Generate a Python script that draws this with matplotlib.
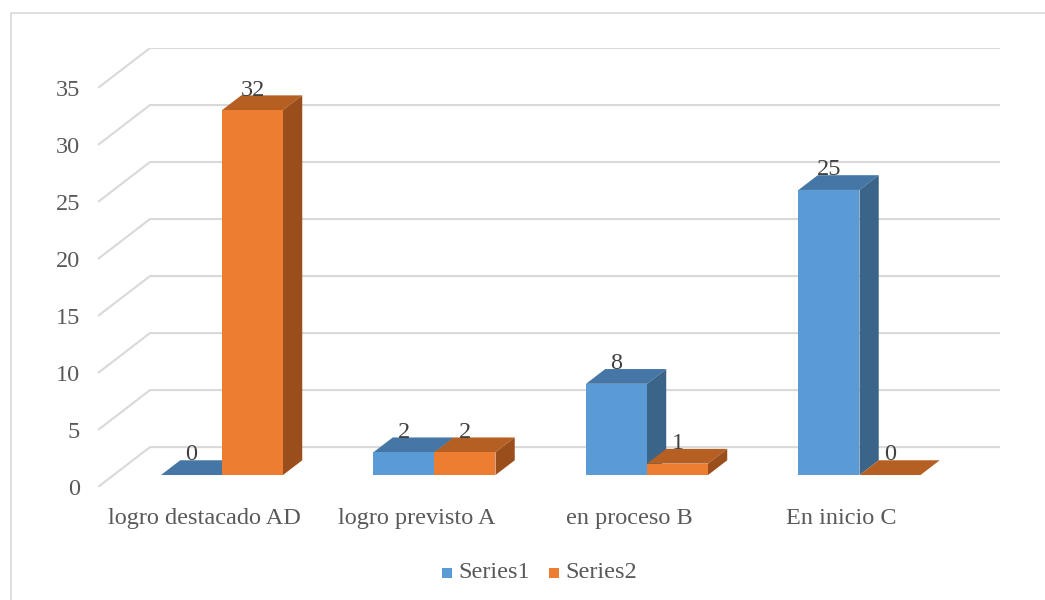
import matplotlib.pyplot as plt
from matplotlib.patches import Polygon, Rectangle

# data
categories = ['logro destacado AD', 'logro previsto A', 'en proceso B', 'En inicio C']
series1 = [0, 2, 8, 25]
series2 = [32, 2, 1, 0]
series_names = ['Series1', 'Series2']
yticks = [0, 5, 10, 15, 20, 25, 30, 35]

# colours: front, top, side
blue = ('#5B9BD5', '#4576A5', '#3A6589')
orange = ('#ED7D31', '#B65F22', '#9A4E1C')

plt.rcParams['font.family'] = ['Liberation Serif', 'DejaVu Serif']
txt_color = '#595959'
fs = 17.5

fig = plt.figure(figsize=(10.45, 6), dpi=100)
fig.patches.append(Rectangle((11 / 1045, -0.1), 1.2, 0.1 + 587 / 600,
                             transform=fig.transFigure, fill=False,
                             edgecolor='#D9D9D9', lw=1.2))

# fake 3D: depth moves a point right and up (data units)
DX = 52 / 212.5
DY = 40 / 11.43
Z1, Z2 = 0.3, 0.67
ymax = 35

ax = fig.add_axes([98 / 1045, 113 / 600, 902 / 1045, 439 / 600])
ax.set_xlim(0, len(categories) + DX)
ax.set_ylim(0, ymax + DY)
ax.axis('off')


def P(x, v, z):
    return (x + z * DX, v + z * DY)


# gridlines: slanted left wall edge + horizontal back line
for t in yticks:
    ax.plot([P(0, t, 0)[0], P(0, t, 1)[0], P(len(categories), t, 1)[0]],
            [P(0, t, 0)[1], P(0, t, 1)[1], P(len(categories), t, 1)[1]],
            color='#D9D9D9', lw=1.5, zorder=1, solid_capstyle='butt')
    ax.text(-0.085, t - 0.2, str(t), ha='right', va='center', fontsize=fs,
            color=txt_color, clip_on=False)

bw = 61 / 212.5
off = 63 / 212.5 - Z1 * DX


def bar3d(x0, v, cols, z):
    x1 = x0 + bw
    # top
    ax.add_patch(Polygon([P(x0, v, Z1), P(x1, v, Z1), P(x1, v, Z2), P(x0, v, Z2)],
                         closed=True, facecolor=cols[1], edgecolor='none', zorder=z))
    if v > 0:
        ax.add_patch(Polygon([P(x0, 0, Z1), P(x1, 0, Z1), P(x1, v, Z1), P(x0, v, Z1)],
                             closed=True, facecolor=cols[0], edgecolor='none', zorder=z))
        ax.add_patch(Polygon([P(x1, 0, Z1), P(x1, 0, Z2), P(x1, v, Z2), P(x1, v, Z1)],
                             closed=True, facecolor=cols[2], edgecolor='none', zorder=z))
    cx = x0 + bw / 2 + Z1 * DX
    ax.text(cx, P(x0, v, Z2)[1] - 0.45, str(v), ha='center', va='bottom',
            fontsize=fs, color='#404040', zorder=20)


zo = 2
for i in range(len(categories)):
    bar3d(i + off, series1[i], blue, zo)
    zo += 1
    bar3d(i + off + bw, series2[i], orange, zo)
    zo += 1
    ax.text(i + 0.5, -2.72, categories[i], ha='center', va='center',
            fontsize=fs, color=txt_color, clip_on=False)

# legend
lx = [442, 549]
for k, (name, cols) in enumerate(zip(series_names, [blue, orange])):
    fig.patches.append(Rectangle((lx[k] / 1045, (600 - 578) / 600), 10 / 1045, 10 / 600,
                                 transform=fig.transFigure, facecolor=cols[0],
                                 edgecolor='none'))
    fig.text((lx[k] + 16) / 1045, (600 - 572) / 600, name, ha='left', va='center',
             fontsize=fs, color=txt_color)

fig.savefig('out.png', dpi=100)
